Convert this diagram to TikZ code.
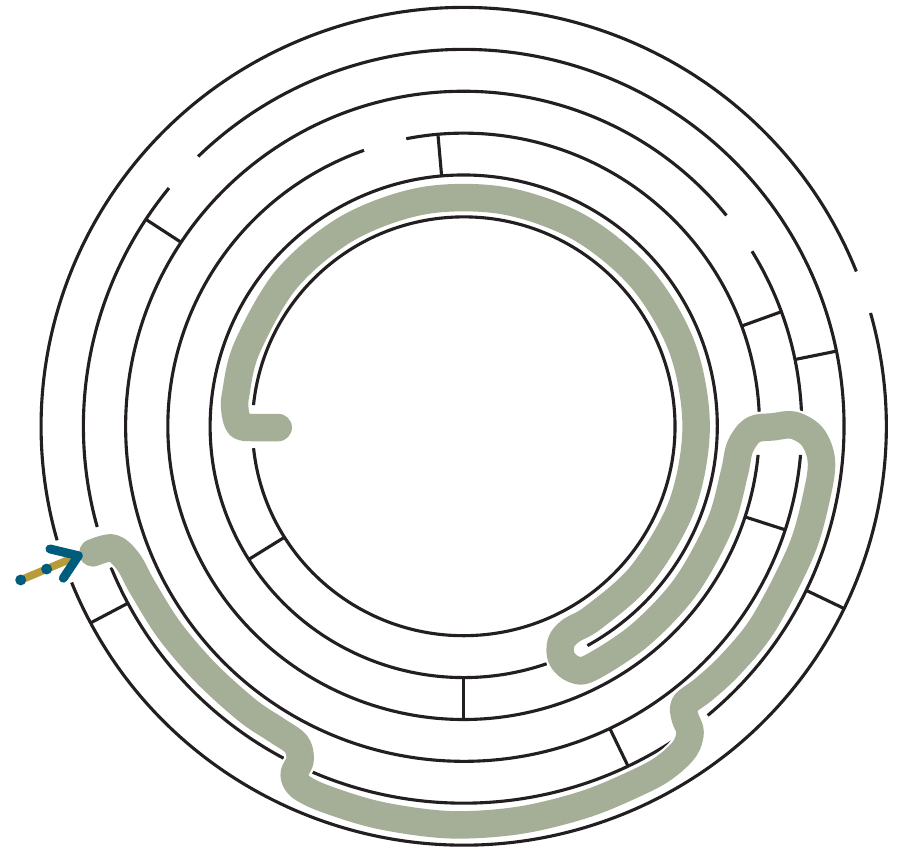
\documentclass[tikz,border=0pt]{standalone}
\usepackage{tikz}
\usetikzlibrary{calc}
\definecolor{mazeink}{RGB}{35,31,32}
\definecolor{mazesage}{RGB}{165,174,150}
\definecolor{mazeblue}{RGB}{0,92,125}
\definecolor{mazegold}{RGB}{184,156,58}
\tikzset{every picture/.style={line width=2.1pt}}

\begin{document}
\begin{tikzpicture}[x=1cm,y=.991cm,
  wall/.style={draw=mazeink,line width=2.1pt},
  trailhalo/.style={draw=white,line width=21.5pt,line cap=round,line join=round},
  trail/.style={draw=mazesage,line width=18.5pt,line cap=round,line join=round,
                preaction={trailhalo}},
  cue/.style={mazeblue,line width=6pt,line cap=round,line join=round}]

  \useasboundingbox (-10.973,-10.117) rectangle (10.324,10.179);

  % Ring walls at radius 5 to 10, each split where a door opens.
  \foreach \rr/\aa/\bb in {5/186/534.2, 6/-60.8/289.3,
      7/2.8/101.2, 7/109.7/354.4, 8/2.5/31.5, 8/39/355.1,
      9/140.8/195.5, 9/202/242.3, 9/246.3/303.4, 9/309.9/494.3,
      10/21.7/195.8, 10/201.9/375.7}
    \draw[wall] (\aa:\rr) arc[start angle=\aa,end angle=\bb,radius=\rr];

  % Radial walls closing the corridors.
  \foreach \aa/\ri/\ro in {212/5/6, 95/6/7, 270/6/7, 20/7/8, -18/7/8,
      146.7/8/9, 11.5/8/9, -64.4/8/9, 208/9/10, -25.8/9/10}
    \draw[wall] (\aa:\ri) -- (\aa:\ro);

  % Solution trail from the gate to the centre.
  \draw[trail] plot[smooth,tension=.55] coordinates {
      (199:9.28) (199.3:8.8) (202.2:8.57) (206.8:8.52) (215:8.5)
      (224:8.48) (233:8.5) (238.6:8.5) (242.4:8.56) (244.1:8.86)
      (244.2:9.22) (245.8:9.43) (249.9:9.48) (258:9.5) (268:9.52)
      (278:9.5) (288:9.47) (297:9.45) (301:9.42) (304.3:9.3)
      (306.3:9.05) (307:8.7) (308.3:8.45) (312.2:8.47) (318:8.5)
      (326.5:8.52) (339.8:8.52) (349.5:8.52) (354.6:8.5) (358.3:8.25)
      (360.2:7.8) (359.9:7.33) (359.3:6.85) (355.7:6.56) (350:6.5)
      (339:6.5) (324:6.5) (310:6.5) (297.5:6.5) (294.1:6.35)
      (292.7:6.0) (294.1:5.65) (297.5:5.5) (304:5.5) (320:5.5)
      (340:5.5) (0:5.5) (20:5.5) (40:5.49) (60:5.48) (80:5.47)
      (100:5.47) (120:5.47) (140:5.47) (160:5.46) (172:5.45)
      (-5.41,.35) (-5.30,.02) (-5.0,-.03) (-4.39,-.03)};

  % Entry cue.
  \coordinate (gatetail) at (-10.483,-3.670);
  \coordinate (gatetip) at (-9.120,-3.090);
  \draw[mazegold,line width=5.2pt] (gatetail) -- (gatetip);
  \fill[mazeblue] (gatetail) circle[radius=.13];
  \fill[mazeblue] ($(gatetail)!.45!(gatetip)$) circle[radius=.13];
  \draw[cue] (gatetip) ++(166.5:.69) -- (gatetip) -- ++(236.6:.645);
\end{tikzpicture}
\end{document}
